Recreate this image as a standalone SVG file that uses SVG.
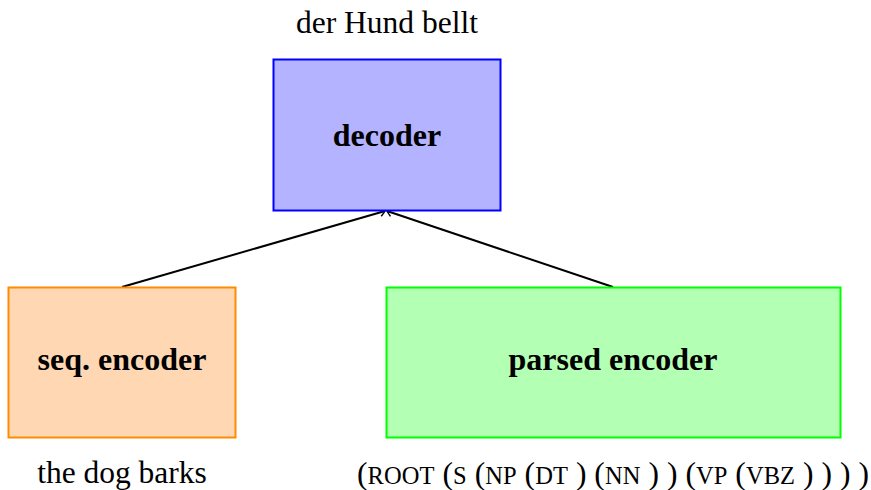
<svg xmlns="http://www.w3.org/2000/svg" width="871" height="490" viewBox="0 0 871 490">
<style>
text{font-family:"Liberation Serif","Times New Roman",serif;fill:#000}
.lbl{font-size:32px;font-weight:bold;text-anchor:middle}
.cap{font-size:31.5px;text-anchor:middle}
.sc{font-size:24.5px}
.edge{stroke:#000;stroke-width:2;fill:none;marker-end:url(#arr)}
</style>
<defs>
<marker id="arr" viewBox="-6 -5 8 10" refX="0" refY="0" markerWidth="8" markerHeight="10" markerUnits="userSpaceOnUse" orient="auto">
<path d="M-5,-4 Q-1,-1 0,0 Q-1,1 -5,4" stroke="#000" stroke-width="1.5" fill="none"/>
</marker>
</defs>
<rect width="871" height="490" fill="#fff"/>
<g id="edges">
<line class="edge" x1="122" y1="287" x2="385" y2="211"/>
<line class="edge" x1="613" y1="287" x2="387" y2="211"/>
</g>
<g id="decoder">
<rect x="273.5" y="59.5" width="227" height="151" fill="#b3b3ff" stroke="#0000ff" stroke-width="2"/>
<text class="lbl" x="387" y="146">decoder</text>
<text class="cap" x="387" y="33">der Hund bellt</text>
</g>
<g id="seq">
<rect x="8.5" y="287.5" width="227" height="150" fill="#ffd8b3" stroke="#ff8c00" stroke-width="2"/>
<text class="lbl" x="122" y="370">seq. encoder</text>
<text class="cap" x="122" y="483">the dog barks</text>
</g>
<g id="parsed">
<rect x="386.5" y="287.5" width="454" height="150" fill="#b3ffb3" stroke="#00ff00" stroke-width="2"/>
<text class="lbl" x="613" y="370">parsed encoder</text>
<text x="357" y="484" font-size="31.5" textLength="512">(<tspan class="sc">ROOT</tspan> (<tspan class="sc">S</tspan> (<tspan class="sc">NP</tspan> (<tspan class="sc">DT</tspan> ) (<tspan class="sc">NN</tspan> ) ) (<tspan class="sc">VP</tspan> (<tspan class="sc">VBZ</tspan> ) ) ) )</text>
</g>
</svg>
